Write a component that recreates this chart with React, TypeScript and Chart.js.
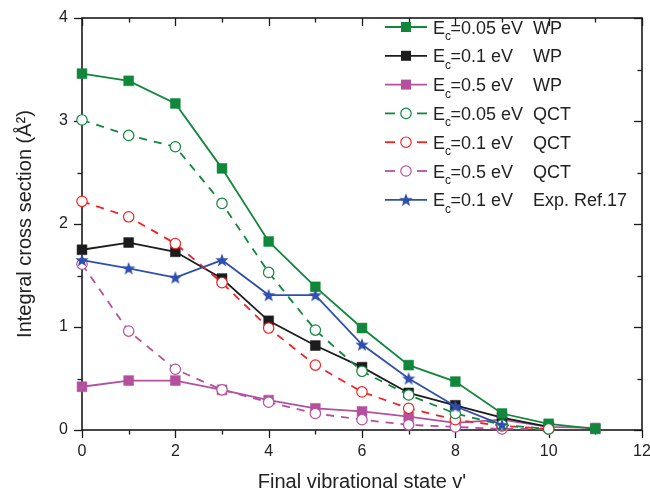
import React, { useEffect, useRef } from 'react';
import { Chart, registerables } from 'chart.js';
Chart.register(...registerables);

const vStates = [0, 1, 2, 3, 4, 5, 6, 7, 8, 9, 10, 11];
const wp005 = [3.46, 3.39, 3.17, 2.54, 1.83, 1.39, 0.99, 0.63, 0.47, 0.16, 0.06, 0.01];
const wp01 = [1.75, 1.82, 1.73, 1.47, 1.06, 0.82, 0.61, 0.36, 0.24, 0.12, 0.03];
const wp05 = [0.42, 0.48, 0.48, 0.39, 0.29, 0.21, 0.18, 0.13, 0.07, 0.10, 0.03, 0.02];
const qct005 = [3.01, 2.86, 2.75, 2.2, 1.53, 0.97, 0.57, 0.34, 0.16, 0.05, 0.01];
const qct01 = [2.22, 2.07, 1.81, 1.43, 0.99, 0.63, 0.37, 0.21, 0.1, 0.04, 0.01];
const qct05 = [1.61, 0.96, 0.59, 0.39, 0.27, 0.16, 0.1, 0.05, 0.03, 0.01, 0.01];
const exp01 = [1.65, 1.57, 1.48, 1.65, 1.31, 1.31, 0.83, 0.5, 0.23, 0.05];

const legendEnergies = ['0.05', '0.1', '0.5', '0.05', '0.1', '0.5', '0.1'];
const legendMethods = ['WP', 'WP', 'WP', 'QCT', 'QCT', 'QCT', 'Exp. Ref.17'];
const xTitle = "Final vibrational state v'";
const yTitle = 'Integral cross section (Å²)';

const GREEN = '#11873b';
const BLACK = '#1c1c1c';
const PINK = '#b5509f';
const RED = '#f52222';
const BLUE = '#2f4fae';
const FONT = "'Liberation Sans', Arial, sans-serif";

function makeStar(color: string, R: number, r: number) {
  const c = document.createElement('canvas');
  const s = Math.ceil(2 * R + 2);
  c.width = s;
  c.height = s;
  const g = c.getContext('2d')!;
  g.fillStyle = color;
  g.beginPath();
  for (let i = 0; i < 10; i++) {
    const ang = -Math.PI / 2 + (i * Math.PI) / 5;
    const rad = i % 2 === 0 ? R : r;
    g.lineTo(s / 2 + rad * Math.cos(ang), s / 2 + rad * Math.sin(ang) + 0.5);
  }
  g.closePath();
  g.fill();
  return c;
}

function pts(vals: number[]) {
  return vals.map((v, i) => ({ x: vStates[i], y: v }));
}

export default function App() {
  const ref = useRef<HTMLCanvasElement>(null);
  useEffect(() => {
    const star = makeStar(BLUE, 7, 2.9);
    const series = [
      { label: 'wp005', data: wp005, color: GREEN, dash: false, style: 'rect', order: 2 },
      { label: 'wp01', data: wp01, color: BLACK, dash: false, style: 'rect', order: 3 },
      { label: 'wp05', data: wp05, color: PINK, dash: false, style: 'rect', order: 4 },
      { label: 'qct005', data: qct005, color: GREEN, dash: true, style: 'circle', order: 1 },
      { label: 'qct01', data: qct01, color: RED, dash: true, style: 'circle', order: 1 },
      { label: 'qct05', data: qct05, color: PINK, dash: true, style: 'circle', order: 1 },
      { label: 'exp01', data: exp01, color: BLUE, dash: false, style: 'star', order: 0 },
    ];
    const datasets = series.map((s) => ({
      label: s.label,
      data: pts(s.data),
      borderColor: s.color,
      backgroundColor: s.color,
      borderWidth: 1.8,
      borderDash: s.dash ? [8, 7] : [],
      pointStyle: s.style === 'star' ? star : s.style,
      pointRadius: s.style === 'rect' ? 7 : s.style === 'circle' ? 5.2 : 7,
      pointBackgroundColor: s.style === 'circle' ? '#ffffff' : s.color,
      pointBorderColor: s.color,
      pointBorderWidth: s.style === 'circle' ? 1.2 : 0.5,
      tension: 0,
      clip: false as any,
      order: s.order,
    }));

    const line = (ctx: CanvasRenderingContext2D, x1: number, y1: number, x2: number, y2: number) => {
      ctx.beginPath();
      ctx.moveTo(x1, y1);
      ctx.lineTo(x2, y2);
      ctx.stroke();
    };

    const framePlugin = {
      id: 'frame',
      beforeDatasetsDraw(chart: any) {
        const { ctx, chartArea: a, scales } = chart;
        const x = scales.x;
        const y = scales.y;
        ctx.save();
        ctx.strokeStyle = '#1a1a1a';
        ctx.lineWidth = 1.6;
        ctx.strokeRect(a.left, a.top, a.right - a.left, a.bottom - a.top);
        ctx.lineWidth = 1.3;
        for (let v = 0; v <= 12; v++) {
          const px = Math.round(x.getPixelForValue(v)) + 0.5;
          const len = v % 2 === 0 ? 8 : 4.5;
          line(ctx, px, a.bottom, px, a.bottom + len);
          line(ctx, px, a.top, px, a.top + len);
        }
        for (let k = 0; k <= 8; k++) {
          const v = k * 0.5;
          const py = Math.round(y.getPixelForValue(v)) + 0.5;
          const len = k % 2 === 0 ? 8 : 4.5;
          line(ctx, a.left, py, a.left - len, py);
          line(ctx, a.right, py, a.right - len, py);
        }
        ctx.restore();
      },
      afterDraw(chart: any) {
        const { ctx, chartArea: a } = chart;
        ctx.save();
        // axis titles
        ctx.fillStyle = '#222';
        ctx.font = `20px ${FONT}`;
        ctx.textAlign = 'center';
        ctx.textBaseline = 'alphabetic';
        ctx.fillText(xTitle, (a.left + a.right) / 2, 488);
        ctx.save();
        ctx.translate(31, (a.top + a.bottom) / 2);
        ctx.rotate(-Math.PI / 2);
        ctx.fillText(yTitle, 0, 0);
        ctx.restore();

        // legend
        const x0 = 385;
        const x1 = 427;
        const xm = 406;
        for (let i = 0; i < series.length; i++) {
          const s = series[i];
          const cy = 27 + i * 28.8;
          ctx.strokeStyle = s.color;
          ctx.lineWidth = 1.8;
          ctx.setLineDash([]);
          if (s.dash) {
            line(ctx, x0, cy, x0 + 10, cy);
            line(ctx, x1 - 10, cy, x1, cy);
          } else {
            line(ctx, x0, cy, x1, cy);
          }
          if (s.style === 'rect') {
            ctx.fillStyle = s.color;
            ctx.fillRect(xm - 5, cy - 5, 10, 10);
          } else if (s.style === 'circle') {
            ctx.fillStyle = '#fff';
            ctx.lineWidth = 1.2;
            ctx.beginPath();
            ctx.arc(xm, cy, 5.2, 0, Math.PI * 2);
            ctx.fill();
            ctx.stroke();
          } else {
            ctx.drawImage(star, xm - star.width / 2, cy - star.height / 2);
          }
          ctx.fillStyle = '#222';
          ctx.textAlign = 'left';
          ctx.font = `18px ${FONT}`;
          const tx = 433;
          ctx.fillText('E', tx, cy + 6.5);
          const ew = ctx.measureText('E').width;
          ctx.font = `12px ${FONT}`;
          ctx.fillText('c', tx + ew, cy + 13);
          const cw = ctx.measureText('c').width;
          ctx.font = `18px ${FONT}`;
          ctx.fillText('=' + legendEnergies[i] + ' eV', tx + ew + cw - 0.5, cy + 6.5);
          ctx.fillText(legendMethods[i], 533, cy + 6.5);
        }
        ctx.restore();
      },
    };

    const chart = new Chart(ref.current!, {
      type: 'line',
      data: { datasets: datasets as any },
      options: {
        responsive: false,
        animation: false,
        layout: { padding: { top: 18, right: 8, left: 0, bottom: 0 } },
        plugins: { legend: { display: false }, tooltip: { enabled: false } },
        scales: {
          x: {
            type: 'linear',
            min: 0,
            max: 12,
            grid: { display: false },
            border: { display: false },
            ticks: {
              stepSize: 2,
              padding: 4,
              color: '#222',
              font: { family: FONT, size: 16 },
            },
            afterFit(scale: any) {
              scale.height = 58;
              scale.paddingLeft = 0;
              scale.paddingRight = 0;
            },
          },
          y: {
            type: 'linear',
            min: 0,
            max: 4,
            grid: { display: false },
            border: { display: false },
            ticks: {
              stepSize: 1,
              padding: 6,
              color: '#222',
              font: { family: FONT, size: 16 },
            },
            afterFit(scale: any) {
              scale.width = 82;
              scale.paddingTop = 0;
              scale.paddingBottom = 0;
            },
          },
        },
      },
      plugins: [framePlugin as any],
    });
    return () => chart.destroy();
  }, []);

  return (
    <div style={{ position: 'absolute', left: 0, top: 0, width: 650, height: 488 }}>
      <canvas ref={ref} width={650} height={488} />
    </div>
  );
}
